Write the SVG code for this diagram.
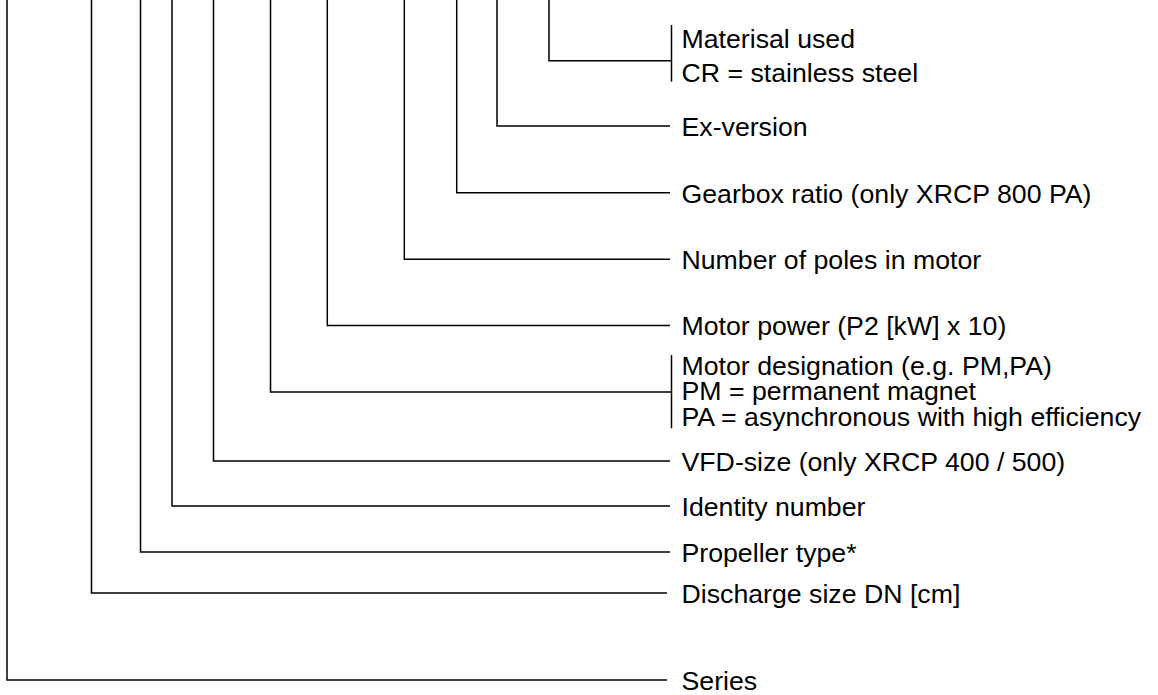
<svg xmlns="http://www.w3.org/2000/svg" width="1158" height="695" viewBox="0 0 1158 695">
<style>
.c{fill:none;stroke:#000;stroke-width:1.5}
.t{font-family:"Liberation Sans",Arial,Helvetica,sans-serif;font-size:26.7px;fill:#000}
</style>
<rect x="0" y="0" width="1158" height="695" fill="#fff"/>
<g id="connectors">
<path class="c" d="M7 0V680H667"/>
<path class="c" d="M91.5 0V593H667"/>
<path class="c" d="M140.5 0V552H670"/>
<path class="c" d="M172 0V506H670"/>
<path class="c" d="M213.5 0V461H670"/>
<path class="c" d="M270.5 0V392H671.5"/>
<path class="c" d="M327.3 0V325.5H670"/>
<path class="c" d="M404.3 0V259.3H670"/>
<path class="c" d="M456.7 0V192.7H670"/>
<path class="c" d="M497 0V126H670"/>
<path class="c" d="M549 0V60.7H671.5"/>
<path class="c" d="M671.5 25V81.7"/>
<path class="c" d="M671.5 355V428.3"/>
</g>
<g id="material"><text class="t" x="681.5" y="48.3">Materisal used</text><text class="t" x="681.5" y="81.7">CR = stainless steel</text></g>
<g id="ex-version"><text class="t" x="681.5" y="135.8">Ex-version</text></g>
<g id="gearbox"><text class="t" x="681.5" y="202.5">Gearbox ratio (only XRCP 800 PA)</text></g>
<g id="poles"><text class="t" x="681.5" y="269.1">Number of poles in motor</text></g>
<g id="motor-power"><text class="t" x="681.5" y="335.3">Motor power (P2 [kW] x 10)</text></g>
<g id="motor-designation"><text class="t" x="681.5" y="374.5">Motor designation (e.g. PM,PA)</text><text class="t" x="681.5" y="400">PM = permanent magnet</text><text class="t" x="681.5" y="425.5">PA = asynchronous with high efficiency</text></g>
<g id="vfd"><text class="t" x="681.5" y="470.8">VFD-size (only XRCP 400 / 500)</text></g>
<g id="identity"><text class="t" x="681.5" y="515.8">Identity number</text></g>
<g id="propeller"><text class="t" x="681.5" y="561.8">Propeller type*</text></g>
<g id="discharge"><text class="t" x="681.5" y="602.8">Discharge size DN [cm]</text></g>
<g id="series"><text class="t" x="681.5" y="690">Series</text></g>
</svg>
